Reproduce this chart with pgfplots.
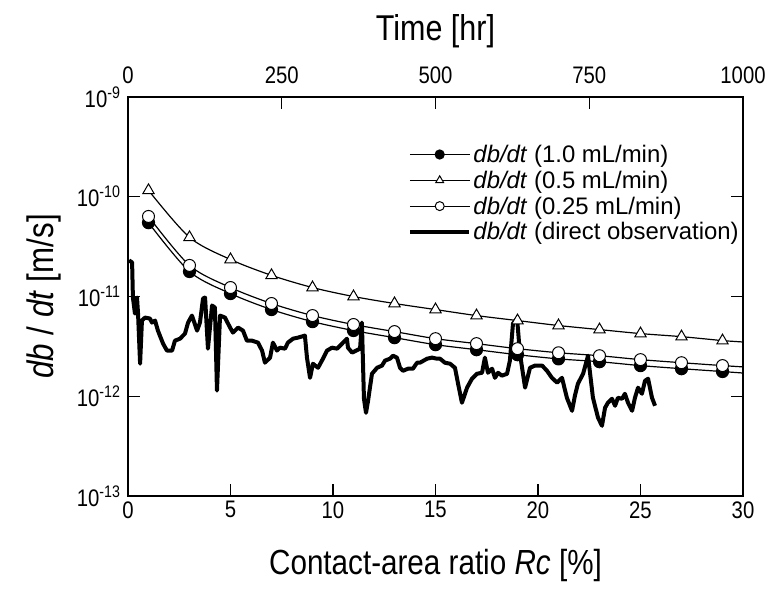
\documentclass[border=0pt]{standalone}
\usepackage{fontspec}
\setmainfont{Liberation Sans}
\newfontfamily\condfont{Liberation Sans}[FakeStretch=0.85]
\usepackage{pgfplots}
\pgfplotsset{compat=1.18}
\begin{document}
\begin{tikzpicture}
\pgfplotsset{
  /pgf/number format/assume math mode=true,
  /pgf/number format/1000 sep={},
}
\begin{axis}[
  width=615bp, height=399bp, scale only axis,
  xmin=0, xmax=30, ymin=1e-13, ymax=1e-9, ymode=log,
  xtick={0,5,...,30}, xtick pos=bottom, ytick pos=both,
  ytick={1e-13,1e-12,1e-11,1e-10,1e-9},
  yticklabels={10\textsuperscript{-13},10\textsuperscript{-12},10\textsuperscript{-11},10\textsuperscript{-10},10\textsuperscript{-9}},
  yminorticks=false,
  tick label style={font=\condfont\fontsize{24}{28}\selectfont},
  xticklabel style={yshift=-2bp},
  yticklabel style={xshift=-4bp},
  tick align=inside, major tick length=12bp,
  axis line style={line width=1.4pt}, tick style={line width=1.2pt, black},
  xlabel={Contact-area ratio \textit{Rc} [\%]},
  ylabel={\textit{db} / \textit{dt} [m/s]},
  xlabel style={font=\condfont\fontsize{35}{40}\selectfont, at={(axis description cs:0.5,0)}, anchor=center, yshift=-69bp},
  ylabel style={font=\condfont\fontsize{37}{42}\selectfont, at={(axis description cs:0,0.5)}, anchor=center, yshift=84bp},
  legend cell align=left,
  legend style={font=\fontsize{24}{28}\selectfont, draw=none, fill=none,
    at={(0.45,0.89)}, anchor=north west, row sep=3bp},
  legend image code/.code={\draw[mark repeat=2,mark phase=2,#1,mark size=4.5bp] plot coordinates {(0cm,0cm) (1.05cm,0cm) (2.1cm,0cm)};},
]
% 1.0 mL/min (filled circles)
\addplot[black, line width=1.2pt, smooth, mark=*, mark size=6bp, mark options={fill=black}] coordinates {
(1,5.5e-11) (3,1.78e-11) (5,1.07e-11) (7,7.4e-12) (9,5.6e-12) (11,4.56e-12) (13,3.87e-12) (15,3.29e-12)
(17,2.93e-12) (19,2.61e-12) (21,2.37e-12) (23,2.22e-12) (25,2.03e-12) (27,1.89e-12) (29,1.77e-12)};
\addlegendentry{\textit{db/dt} (1.0 mL/min)}
% 0.5 mL/min (triangles)
\addplot[black, line width=1.2pt, smooth, mark=triangle*, mark size=6.5bp, mark options={fill=white, line width=1pt}] coordinates {
(1,1.16e-10) (3,3.92e-11) (5,2.35e-11) (7,1.63e-11) (9,1.23e-11) (11,1.0e-11) (13,8.51e-12) (15,7.4e-12)
(17,6.44e-12) (19,5.74e-12) (21,5.12e-12) (23,4.66e-12) (25,4.25e-12) (27,3.96e-12) (29,3.61e-12)};
\addlegendentry{\textit{db/dt} (0.5 mL/min)}
% 0.25 mL/min (open circles)
\addplot[black, line width=1.2pt, smooth, mark=*, mark size=6bp, mark options={fill=white, line width=1pt}] coordinates {
(1,6.35e-11) (3,2.05e-11) (5,1.23e-11) (7,8.51e-12) (9,6.44e-12) (11,5.24e-12) (13,4.45e-12) (15,3.78e-12)
(17,3.37e-12) (19,3.0e-12) (21,2.73e-12) (23,2.55e-12) (25,2.33e-12) (27,2.17e-12) (29,2.03e-12)};
\addlegendentry{\textit{db/dt} (0.25 mL/min)}
% direct observation
\addplot[black, line width=4bp, line join=round, mark=none] coordinates {
(0.05,2.30e-11) (0.20,2.20e-11) (0.24,9.77e-12) (0.34,6.74e-12) (0.44,9.77e-12) (0.49,6.74e-12)
(0.59,2.12e-12) (0.68,5.74e-12) (0.83,6.15e-12) (1.07,6.01e-12) (1.17,5.48e-12) (1.32,5.74e-12)
(1.46,4.55e-12) (1.71,3.37e-12) (1.90,2.87e-12) (2.15,2.87e-12) (2.29,3.61e-12) (2.54,3.78e-12)
(2.78,4.25e-12) (2.93,5.48e-12) (3.12,6.44e-12) (3.37,4.55e-12) (3.51,5.48e-12) (3.66,9.55e-12)
(3.76,9.77e-12) (3.90,3.00e-12) (4.10,8.13e-12) (4.24,7.75e-12) (4.34,1.14e-12) (4.49,6.44e-12)
(4.73,6.15e-12) (4.98,4.88e-12) (5.12,4.35e-12) (5.37,4.88e-12) (5.61,4.55e-12) (5.80,3.61e-12)
(6.05,3.61e-12) (6.34,3.45e-12) (6.54,2.87e-12) (6.68,2.17e-12) (6.93,2.44e-12) (7.07,3.45e-12)
(7.27,2.87e-12) (7.41,3.07e-12) (7.66,3.00e-12) (7.80,3.45e-12) (8.05,3.78e-12) (8.29,3.87e-12)
(8.63,4.06e-12) (8.73,2.44e-12) (8.88,1.53e-12) (9.02,2.12e-12) (9.27,1.93e-12) (9.51,2.38e-12)
(9.71,2.87e-12) (9.95,3.07e-12) (10.20,3.00e-12) (10.49,3.45e-12) (10.68,3.78e-12) (10.73,3.07e-12)
(10.93,2.74e-12) (11.32,3.00e-12) (11.41,5.48e-12) (11.51,9.44e-13) (11.61,6.83e-13) (11.71,9.0e-13)
(11.90,1.68e-12) (12.15,1.93e-12) (12.39,2.03e-12) (12.54,2.28e-12) (12.78,2.38e-12) (12.93,2.55e-12)
(13.12,2.44e-12) (13.27,1.93e-12) (13.41,1.80e-12) (13.66,1.89e-12) (13.90,1.89e-12) (14.10,2.17e-12)
(14.24,2.17e-12) (14.59,2.38e-12) (14.83,2.44e-12) (15.07,2.38e-12) (15.22,2.38e-12) (15.46,2.17e-12)
(15.71,2.12e-12) (15.95,1.93e-12) (16.10,1.34e-12) (16.29,8.61e-13) (16.54,1.22e-12) (16.78,1.50e-12)
(17.02,1.68e-12) (17.27,1.72e-12) (17.41,2.44e-12) (17.56,1.72e-12) (17.76,1.89e-12) (17.90,1.53e-12)
(18.05,1.72e-12) (18.24,1.61e-12) (18.49,1.68e-12) (18.63,2.28e-12) (18.78,5.36e-12) (18.98,6.01e-12)
(19.12,2.67e-12) (19.37,1.22e-12) (19.61,1.93e-12) (19.85,2.03e-12) (20.20,2.03e-12) (20.44,1.80e-12)
(20.68,1.53e-12) (20.93,1.37e-12) (21.17,1.53e-12) (21.41,9.66e-13) (21.66,7.15e-13) (21.80,1.01e-12)
(21.95,1.34e-12) (22.20,1.68e-12) (22.44,2.55e-12) (22.68,9.66e-13) (22.93,6.08e-13) (23.12,5.06e-13)
(23.27,7.66e-13) (23.41,8.61e-13) (23.61,9.44e-13) (23.76,8.03e-13) (23.90,9.66e-13) (24.10,9.44e-13)
(24.24,1.06e-12) (24.39,8.61e-13) (24.59,7.15e-13) (24.73,9.66e-13) (24.88,1.22e-12) (25.07,1.06e-12)
(25.22,1.43e-12) (25.37,1.50e-12) (25.56,9.66e-13) (25.71,8.03e-13)};
\addlegendentry{\textit{db/dt} (direct observation)}
% line tails to the right border
\addplot[black, line width=1.2pt, forget plot] coordinates {(29,1.77e-12) (30,1.71e-12)};
\addplot[black, line width=1.2pt, forget plot] coordinates {(29,3.61e-12) (30,3.5e-12)};
\addplot[black, line width=1.2pt, forget plot] coordinates {(29,2.03e-12) (30,1.97e-12)};
\end{axis}
\begin{axis}[
  width=615bp, height=399bp, scale only axis,
  xmin=0, xmax=1000, ymin=0, ymax=1,
  axis x line*=top, axis y line=none,
  xtick={0,250,...,1000},
  tick label style={font=\condfont\fontsize{24}{28}\selectfont},
  xticklabel style={yshift=10bp},
  tick align=inside, major tick length=12bp,
  axis line style={line width=1.4pt}, tick style={line width=1.2pt, black},
  xlabel={Time [hr]},
  xlabel style={font=\condfont\fontsize{36}{40}\selectfont, at={(axis description cs:0.5,1)}, anchor=center, yshift=66bp},
]
\end{axis}
\path ([xshift=-128bp,yshift=-94bp]current axis.south west) rectangle ++(770bp,590bp);
\end{tikzpicture}
\end{document}
